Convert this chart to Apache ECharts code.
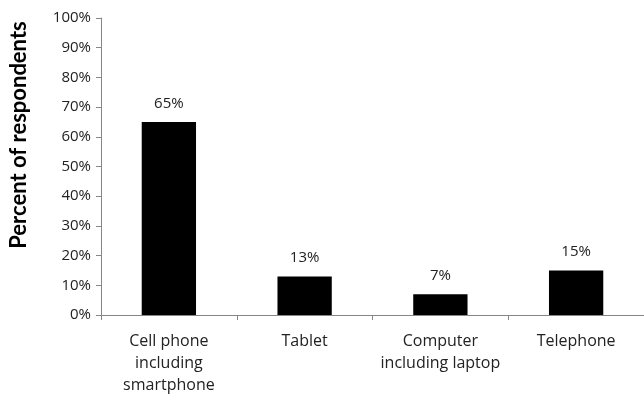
<!DOCTYPE html>
<html>
<head>
<meta charset="utf-8">
<script src="https://cdn.jsdelivr.net/npm/echarts@6/dist/echarts.min.js"></script>
<style>
  html, body { margin: 0; padding: 0; background: #fff; }
  #chart { width: 644px; height: 396px; }
</style>
</head>
<body>
<div id="chart"></div>
<script>
const categories = ['Cell phone\nincluding\nsmartphone', 'Tablet', 'Computer\nincluding laptop', 'Telephone'];
const values = [65, 13, 7, 15];
const yTicks = [0, 10, 20, 30, 40, 50, 60, 70, 80, 90, 100];

const chart = echarts.init(document.getElementById('chart'), null, { renderer: 'canvas' });
const font = '"Open Sans", Lato, sans-serif';

chart.setOption({
  animation: false,
  grid: { left: 101, right: -1, top: 18, bottom: 80 },
  graphic: [{
    type: 'text',
    rotation: Math.PI / 2,
    x: 19,
    y: 135,
    style: {
      text: 'Percent of respondents',
      font: 'bold 22px Lato, sans-serif',
      fill: '#000',
      align: 'center',
      verticalAlign: 'middle'
    }
  }],
  xAxis: {
    type: 'category',
    data: categories,
    axisLine: { lineStyle: { color: '#868686' } },
    axisTick: { show: true, interval: 0, length: 5, lineStyle: { color: '#868686' } },
    axisLabel: { interval: 0, color: '#222', fontFamily: font, fontSize: 16, lineHeight: 22, margin: 15 }
  },
  yAxis: {
    type: 'value',
    min: yTicks[0],
    max: yTicks[yTicks.length - 1],
    interval: 10,
    axisLine: { show: true, lineStyle: { color: '#868686' } },
    axisTick: { show: true, length: 5, lineStyle: { color: '#868686' } },
    splitLine: { show: false },
    axisLabel: { color: '#222', fontFamily: font, fontSize: 15, margin: 10, formatter: '{value}%' }
  },
  series: [{
    type: 'bar',
    data: values,
    barWidth: '40%',
    itemStyle: { color: '#000' },
    label: {
      show: true,
      position: 'top',
      distance: 11,
      color: '#222',
      fontFamily: font,
      fontSize: 15,
      formatter: '{c}%'
    }
  }]
});
</script>
</body>
</html>
